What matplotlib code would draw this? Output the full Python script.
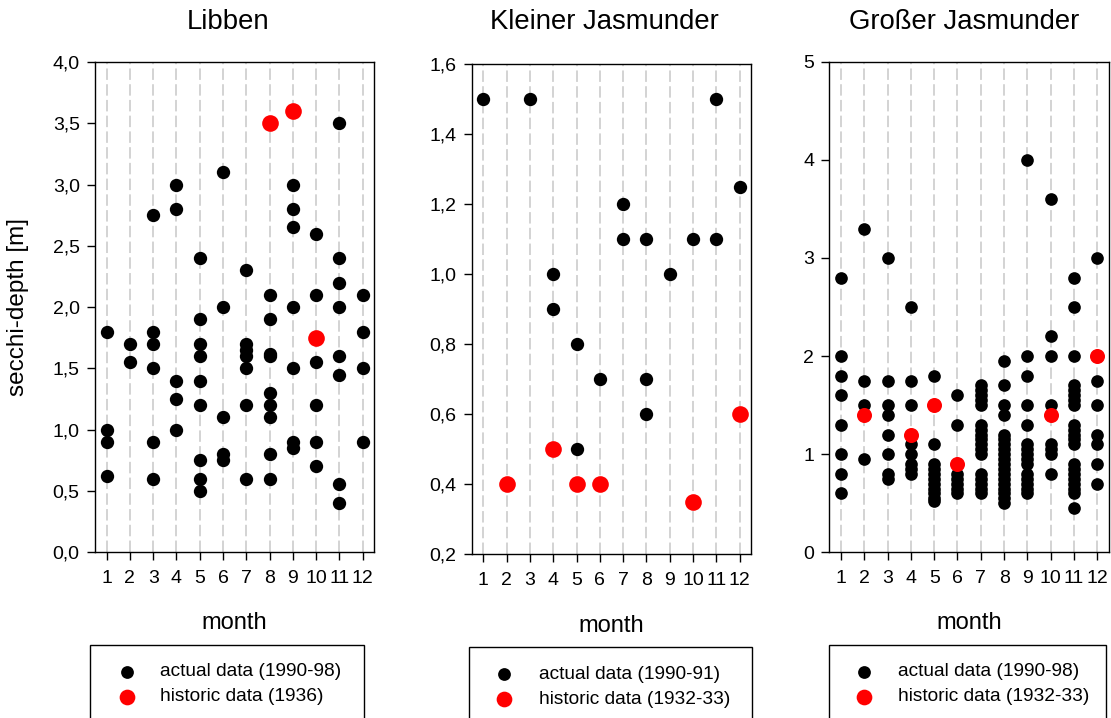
import matplotlib
matplotlib.use('Agg')
import matplotlib.pyplot as plt
from matplotlib.lines import Line2D
from matplotlib.patches import Rectangle
from matplotlib.ticker import FuncFormatter

plt.rcParams['font.family'] = ['Liberation Sans', 'DejaVu Sans']

W, H = 1111, 718
MONTHS = list(range(1, 13))

# secchi depth [m] per month (index 0 = January)
libben_actual = [
    [1.8, 1.0, 0.9, 0.62],
    [1.7, 1.55],
    [2.75, 1.8, 1.7, 1.5, 0.9, 0.6],
    [3.0, 2.8, 1.4, 1.25, 1.0],
    [2.4, 1.9, 1.7, 1.6, 1.4, 1.2, 0.75, 0.6, 0.5],
    [3.1, 2.0, 1.1, 0.8, 0.75],
    [2.3, 1.7, 1.65, 1.6, 1.5, 1.2, 0.6],
    [2.1, 1.9, 1.62, 1.6, 1.3, 1.2, 1.1, 0.8, 0.6],
    [3.0, 2.8, 2.65, 2.0, 1.5, 0.9, 0.85],
    [2.6, 2.1, 1.55, 1.2, 0.9, 0.7],
    [3.5, 2.4, 2.2, 2.0, 1.6, 1.45, 0.56, 0.4],
    [2.1, 1.8, 1.5, 0.9],
]
libben_hist_months = [8, 9, 10]
libben_hist_depth = [3.5, 3.6, 1.75]

kleiner_actual = [
    [1.5],
    [],
    [1.5],
    [1.0, 0.9],
    [0.8, 0.5],
    [0.7],
    [1.2, 1.1],
    [1.1, 0.7, 0.6],
    [1.0],
    [1.1],
    [1.5, 1.1],
    [1.25],
]
kleiner_hist_months = [2, 4, 5, 6, 10, 12]
kleiner_hist_depth = [0.4, 0.5, 0.4, 0.4, 0.35, 0.6]

grosser_actual = [
    [2.8, 2.0, 1.8, 1.6, 1.3, 1.0, 0.8, 0.6],
    [3.3, 1.75, 1.5, 0.95],
    [3.0, 1.75, 1.5, 1.4, 1.2, 1.0, 0.8, 0.75],
    [2.5, 1.75, 1.5, 1.1, 1.0, 0.9, 0.85, 0.8],
    [1.8, 1.1, 0.9, 0.85, 0.8, 0.75, 0.7, 0.65, 0.6, 0.55, 0.52],
    [1.6, 1.3, 0.8, 0.75, 0.7, 0.65, 0.6],
    [1.7, 1.65, 1.6, 1.55, 1.5, 1.3, 1.25, 1.2, 1.15, 1.1, 1.05, 1.0,
     0.8, 0.75, 0.7, 0.65, 0.6],
    [1.95, 1.7, 1.5, 1.4, 1.2, 1.15, 1.1, 1.05, 1.0, 0.95, 0.9, 0.85,
     0.8, 0.75, 0.7, 0.65, 0.6, 0.55, 0.5],
    [4.0, 2.0, 1.8, 1.5, 1.3, 1.1, 1.05, 1.0, 0.95, 0.9, 0.8, 0.75,
     0.7, 0.65, 0.6],
    [3.6, 2.2, 2.0, 1.5, 1.1, 1.05, 1.0, 0.8],
    [2.8, 2.5, 2.0, 1.7, 1.65, 1.6, 1.55, 1.5, 1.3, 1.25, 1.2, 1.15,
     1.1, 0.9, 0.85, 0.8, 0.75, 0.7, 0.65, 0.6, 0.45],
    [3.0, 1.75, 1.5, 1.2, 1.1, 0.9, 0.7],
]
grosser_hist_months = [2, 4, 5, 6, 10, 12]
grosser_hist_depth = [1.4, 1.2, 1.5, 0.9, 1.4, 2.0]

titles = ['Libben', 'Kleiner Jasmunder', 'Großer Jasmunder']
legend_labels = [
    ('actual data (1990-98)', 'historic data (1936)'),
    ('actual data (1990-91)', 'historic data (1932-33)'),
    ('actual data (1990-98)', 'historic data (1932-33)'),
]


def comma_fmt(v, pos):
    return '{:.1f}'.format(v).replace('.', ',')


def int_fmt(v, pos):
    return '{:d}'.format(int(round(v)))


def px_rect(left, top, right, bottom):
    return [left / W, 1 - bottom / H, (right - left) / W, (bottom - top) / H]


fig = plt.figure(figsize=(W / 100, H / 100), dpi=100)

panels = [
    dict(rect=px_rect(95, 62, 374.3, 552.3), actual=libben_actual,
         hm=libben_hist_months, hd=libben_hist_depth,
         ylim=(0, 4), yticks=[i * 0.5 for i in range(9)], fmt=comma_fmt,
         s_black=92, s_red=144, title_x=228, xlabel_y=623,
         box=(90, 645, 364), rows=(671.7, 696.7), mark_x=127.5, text_x=160.5),
    dict(rect=px_rect(471.7, 64, 751.3, 554), actual=kleiner_actual,
         hm=kleiner_hist_months, hd=kleiner_hist_depth,
         ylim=(0.2, 1.6), yticks=[0.2, 0.4, 0.6, 0.8, 1.0, 1.2, 1.4, 1.6], fmt=comma_fmt,
         s_black=92, s_red=144, title_x=604, xlabel_y=626,
         box=(469.4, 647.3, 752), rows=(674.3, 699.3), mark_x=504.4, text_x=538.7),
    dict(rect=px_rect(829.3, 61.7, 1109, 552.3), actual=grosser_actual,
         hm=grosser_hist_months, hd=grosser_hist_depth,
         ylim=(0, 5), yticks=[0, 1, 2, 3, 4, 5], fmt=int_fmt,
         s_black=83, s_red=117, title_x=964, xlabel_y=623,
         box=(829, 645, 1106), rows=(671.7, 696.7), mark_x=863.5, text_x=898.5),
]

for i, p in enumerate(panels):
    ax = fig.add_axes(p['rect'])
    xs, ys = [], []
    for m, vals in zip(MONTHS, p['actual']):
        xs += [m] * len(vals)
        ys += vals
    ax.scatter(xs, ys, s=p['s_black'], color='black', linewidths=0, zorder=3)
    ax.scatter(p['hm'], p['hd'], s=p['s_red'], color='#ff0000', linewidths=0, zorder=4)

    ax.set_xlim(0.5, 12.5)
    ax.set_ylim(*p['ylim'])
    ax.set_xticks(MONTHS)
    ax.set_yticks(p['yticks'])
    ax.yaxis.set_major_formatter(FuncFormatter(p['fmt']))
    ax.tick_params(direction='out', length=6, width=1.0, labelsize=14, pad=5)
    ax.tick_params(axis='x', pad=7)
    ax.grid(axis='x', color='#c8c8c8', linewidth=1.1, linestyle=(0, (7.5, 2.8)))
    ax.set_axisbelow(True)
    for sp in ax.spines.values():
        sp.set_linewidth(1.0)

    fig.text(p['title_x'] / W, 1 - 22 / H, titles[i], ha='center', va='center', fontsize=19.8)
    cx = p['rect'][0] + p['rect'][2] / 2
    fig.text(cx, 1 - p['xlabel_y'] / H, 'month', ha='center', va='center', fontsize=17)

    # legend box, its lower edge runs off the bottom of the figure
    bx0, btop, bx1 = p['box']
    fig.add_artist(Rectangle((bx0 / W, -0.05), (bx1 - bx0) / W, 1 - btop / H + 0.05,
                             transform=fig.transFigure, facecolor='white',
                             edgecolor='black', linewidth=1.0))
    for row_y, color, ms, label in zip(p['rows'], ['black', '#ff0000'], [9.2, 11.3],
                                       legend_labels[i]):
        fig.add_artist(Line2D([p['mark_x'] / W], [1 - row_y / H], marker='o',
                              markersize=ms, color=color, markeredgewidth=0,
                              linestyle='none', transform=fig.transFigure))
        fig.text(p['text_x'] / W, 1 - row_y / H, label, ha='left', va='center', fontsize=13.8)

fig.text(18 / W, 1 - 307 / H, 'secchi-depth [m]', rotation=90, ha='center', va='center',
         fontsize=17.5)

fig.savefig('out.png', dpi=100)
